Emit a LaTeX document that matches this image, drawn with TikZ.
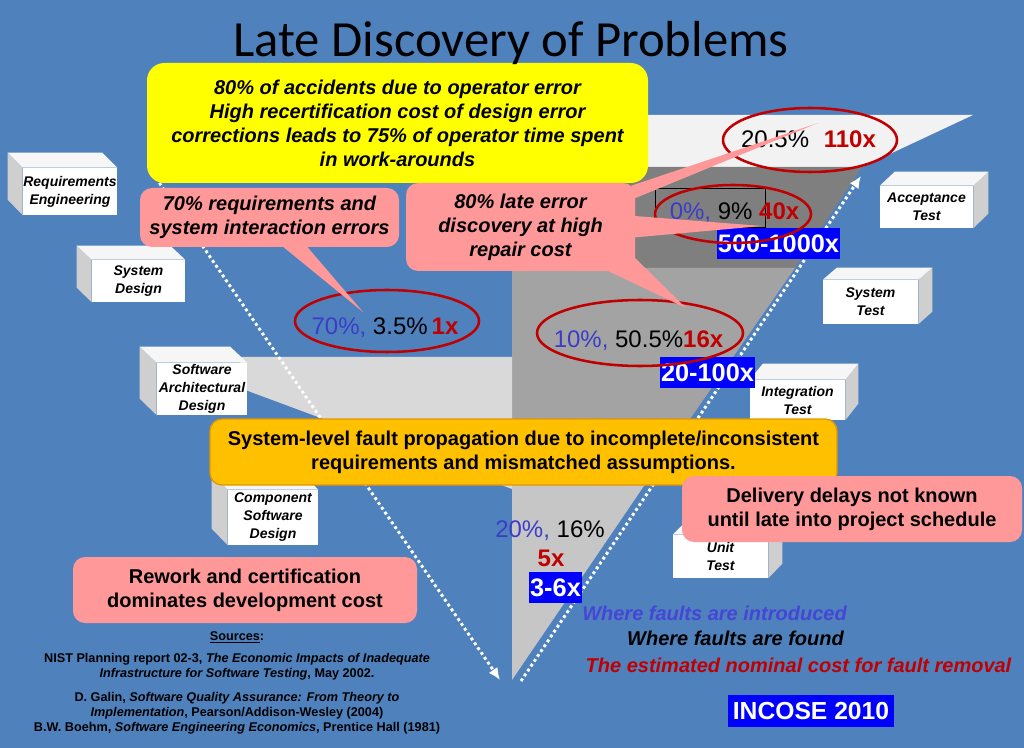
\documentclass[tikz,border=0pt]{standalone}
\usepackage{fontspec}
\setmainfont{Liberation Sans}
\newfontfamily\titlefont{Carlito}
\usetikzlibrary{arrows.meta,calc}

\definecolor{slidebg}{HTML}{4F81BD}
\definecolor{pinkbox}{HTML}{FF9999}
\definecolor{noteyellow}{HTML}{FFFF00}
\definecolor{faultorange}{HTML}{FFC000}
\definecolor{faultedge}{HTML}{E39500}
\definecolor{ringred}{HTML}{C00000}
\definecolor{pctblue}{HTML}{3C3CC8}
\definecolor{legendblue}{HTML}{4646D6}
\definecolor{costblue}{HTML}{0000FF}
\definecolor{sidegray}{HTML}{CFCFCF}
\definecolor{topwhite}{HTML}{F6F6F6}
\definecolor{bandtop}{HTML}{F2F2F2}
\definecolor{banddark}{HTML}{7F7F7F}
\definecolor{bandmid}{HTML}{A3A3A3}
\definecolor{bandlow}{HTML}{C6C6C6}
\definecolor{bandarch}{HTML}{D9D9D9}

\begin{document}
\begin{tikzpicture}[x=0.75pt, y=-0.75pt,
	block/.style={fill=white, inner sep=0pt, align=center, font=\bfseries\itshape\fontsize{10.5}{13.5}\selectfont},
	blockside/.style={fill=sidegray},
	blocktop/.style={fill=topwhite},
	note/.style={rounded corners=9pt, inner sep=0pt, align=center, font=\bfseries\fontsize{15}{18}\selectfont},
	slanted/.style={font=\bfseries\itshape\fontsize{15}{18}\selectfont},
	pointer/.style={fill=pinkbox},
	ring/.style={ringred, line width=1.9pt},
	pct/.style={anchor=base, inner sep=0pt, font=\fontsize{18}{22}\selectfont},
	cost/.style={fill=costblue, text=white, inner sep=0pt, font=\bfseries\fontsize{19}{22}\selectfont},
	legend/.style={anchor=base, inner sep=0pt, font=\bfseries\itshape\fontsize{15}{18}\selectfont},
	ref/.style={align=center, inner sep=0pt, font=\bfseries\fontsize{9.5}{11.25}\selectfont},
	flow/.style={white, line width=2.2pt, dash pattern=on 2.2pt off 2.2pt, -{Latex[length=9pt, width=8pt]}}]
	\useasboundingbox (0,0) rectangle (1024,748);
	\fill[slidebg] (0,0) rectangle (1024,748);

	% the V of bands
	\fill[bandtop] (470,115) -- (973,115) -- (862,167) -- (470,167) -- cycle;
	\fill[banddark] (470,167) -- (862,167) -- (795,268) -- (470,268) -- cycle;
	\fill[bandmid] (512,268) -- (795,268) -- (665,455) -- (512,455) -- cycle;
	\fill[bandlow] (512,455) -- (665,455) -- (512,680) -- cycle;
	\fill[bandarch] (240,357) -- (512,357) -- (512,489) -- (240,388) -- cycle;

	% dotted arrows
	\coordinate (downstart) at (156,178);
	\coordinate (downend) at (500,680);
	\coordinate (upstart) at (521,681);
	\coordinate (upend) at (861,176);
	\draw[flow] (downstart) -- (downend);
	\draw[flow] (upstart) -- (upend);

	% design blocks
	\node[block, minimum width=70.5pt, minimum height=35.25pt] (reqeng) at (70,191.5) {Requirements\\Engineering};
	\fill[blockside] (reqeng.north west) -- ++(-15,-15) -- ++(0,47) -- (reqeng.south west) -- cycle;
	\fill[blocktop] (reqeng.north west) -- ++(-15,-15) -- ($(reqeng.north east)+(-15,-15)$) -- (reqeng.north east) -- cycle;
	\node[block, minimum width=69.75pt, minimum height=31.5pt] (sysdes) at (138.5,281) {System\\Design};
	\fill[blockside] (sysdes.north west) -- ++(-15,-14) -- ++(0,42) -- (sysdes.south west) -- cycle;
	\fill[blocktop] (sysdes.north west) -- ++(-15,-14) -- ($(sysdes.north east)+(-15,-14)$) -- (sysdes.north east) -- cycle;
	\node[block, minimum width=67.5pt, minimum height=39pt] (swarch) at (202,389) {Software\\Architectural\\Design};
	\fill[blockside] (swarch.north west) -- ++(-17,-16) -- ++(0,52) -- (swarch.south west) -- cycle;
	\fill[blocktop] (swarch.north west) -- ++(-17,-16) -- ($(swarch.north east)+(-17,-16)$) -- (swarch.north east) -- cycle;
	\node[block, minimum width=67.5pt, minimum height=41.25pt] (compsw) at (273,517.5) {Component\\Software\\Design};
	\fill[blockside] (compsw.north west) -- ++(-16,-16) -- ++(0,55) -- (compsw.south west) -- cycle;
	\fill[blocktop] (compsw.north west) -- ++(-16,-16) -- ($(compsw.north east)+(-16,-16)$) -- (compsw.north east) -- cycle;

	% test blocks
	\node[block, minimum width=69.75pt, minimum height=31.5pt] (acctest) at (926.5,207) {Acceptance\\Test};
	\fill[blockside] (acctest.north east) -- ++(15,-14) -- ++(0,42) -- (acctest.south east) -- cycle;
	\fill[blocktop] (acctest.north west) -- ++(15,-14) -- ($(acctest.north east)+(15,-14)$) -- (acctest.north east) -- cycle;
	\node[block, minimum width=71.25pt, minimum height=33pt] (systest) at (870.5,302) {System\\Test};
	\fill[blockside] (systest.north east) -- ++(14,-12) -- ++(0,44) -- (systest.south east) -- cycle;
	\fill[blocktop] (systest.north west) -- ++(14,-12) -- ($(systest.north east)+(14,-12)$) -- (systest.north east) -- cycle;
	\node[block, minimum width=71.25pt, minimum height=30pt] (inttest) at (797.5,400) {Integration\\Test};
	\fill[blockside] (inttest.north east) -- ++(13,-16) -- ++(0,40) -- (inttest.south east) -- cycle;
	\fill[blocktop] (inttest.north west) -- ++(13,-16) -- ($(inttest.north east)+(13,-16)$) -- (inttest.north east) -- cycle;
	\node[block, minimum width=71.25pt, minimum height=32.25pt] (unittest) at (720.5,556.5) {Unit\\Test};
	\fill[blockside] (unittest.north east) -- ++(14,-14) -- ++(0,43) -- (unittest.south east) -- cycle;
	\fill[blocktop] (unittest.north west) -- ++(14,-14) -- ($(unittest.north east)+(14,-14)$) -- (unittest.north east) -- cycle;

	% figures per phase
	\draw[black, line width=0.6pt] (655,188) rectangle (765,227);
	\node[cost, minimum width=92.25pt, minimum height=23.25pt] (c500) at (778.5,243.5) {500-1000x};
	\node[cost, minimum width=71.25pt, minimum height=23.25pt] (c20) at (707.5,372.5) {20-100x};
	\node[cost, minimum width=39.75pt, minimum height=23.25pt] (c3) at (555.5,587.5) {3-6x};
	\node[pct] (accrow) at (808.5,148) {20.5\%\hspace{11pt}\textcolor{ringred}{\bfseries 110x}};
	\node[pct] (sysrow) at (734.5,220) {\textcolor{pctblue}{0\%,} 9\% \textcolor{ringred}{\bfseries 40x}};
	\node[pct] (reqrow) at (385,335) {\textcolor{pctblue}{70\%,} 3.5\%\,\textcolor{ringred}{\bfseries 1x}};
	\node[pct] (introw) at (638.5,348) {\textcolor{pctblue}{10\%,} 50.5\%\textcolor{ringred}{\bfseries 16x}};
	\node[pct] (unitrow) at (550,537) {\textcolor{pctblue}{20\%,} 16\%};
	\node[pct, text=ringred, font=\bfseries\fontsize{18}{22}\selectfont] (unitcost) at (551,566) {5x};
	\draw[ring] (810,140) ellipse [x radius=65.25pt, y radius=24pt];
	\draw[ring] (733,214) ellipse [x radius=58.5pt, y radius=21.75pt];
	\draw[ring] (387,321) ellipse [x radius=69pt, y radius=23.25pt];
	\draw[ring] (640,333) ellipse [x radius=77.25pt, y radius=24.75pt];

	% callouts
	\node[note, slanted, fill=noteyellow, rounded corners=13pt, minimum width=375.75pt, minimum height=90pt] (operator) at (397.5,123)
		{80\% of accidents due to operator error\\High recertification cost of design error\\corrections leads to 75\% of operator time spent\\in work-arounds};
	\coordinate (tip110) at (818,123);
	\coordinate (tip40) at (762,226);
	\coordinate (tip16) at (686,308);
	\coordinate (tip1x) at (363,312);
	\node[note, slanted, fill=pinkbox, minimum width=194.25pt, minimum height=44.25pt] (reqerr) at (269.5,217.5)
		{70\% requirements and\\system interaction errors};
	\fill[pointer] ([shift={(10.5,-3)}]reqerr.south) -- (tip1x) -- ([shift={(35.5,-3)}]reqerr.south) -- cycle;
	\node[note, slanted, fill=pinkbox, minimum width=171.75pt, minimum height=66pt] (lateerr) at (520.5,227)
		{80\% late error\\discovery at high\\repair cost};
	\fill[pointer] ([shift={(-4,3)}]lateerr.north east) -- (tip110) -- ([shift={(-4,17)}]lateerr.north east) -- cycle;
	\fill[pointer] ([shift={(-4,33)}]lateerr.north east) -- (tip40) -- ([shift={(-4,55)}]lateerr.north east) -- cycle;
	\fill[pointer] ([shift={(-33,-3)}]lateerr.south east) -- (tip16) -- ([shift={(-3,-16)}]lateerr.south east) -- cycle;
	\node[note, fill=faultorange, draw=faultedge, line width=1pt, minimum width=470.25pt, minimum height=49.5pt] (fault) at (523.5,452)
		{System-level fault propagation due to incomplete/inconsistent\\requirements and mismatched assumptions.};
	\node[note, fill=pinkbox, minimum width=255pt, minimum height=49.5pt] (delay) at (852,509)
		{Delivery delays not known\\until late into project schedule};
	\node[note, fill=pinkbox, minimum width=258pt, minimum height=49.5pt] (rework) at (245,590)
		{Rework and certification\\dominates development cost};

	% legend and sources
	\node[legend, text=legendblue] (introduced) at (714.5,620) {Where faults are introduced};
	\node[legend] (found) at (735.5,645) {Where faults are found};
	\node[legend, text=ringred] (removal) at (798.5,672) {The estimated nominal cost for fault removal};
	\node[cost, minimum width=124.5pt, minimum height=24pt, font=\bfseries\fontsize{18.5}{22}\selectfont] (incose) at (811,711) {INCOSE 2010};
	\node[ref, anchor=base] (sources) at (237,640) {\underline{Sources}:};
	\node[ref] (nist) at (237,666.7) {NIST Planning report 02-3, \textit{The Economic Impacts of Inadequate}\\\textit{Infrastructure for Software Testing}, May 2002.};
	\node[ref] (galin) at (237,713.2) {D. Galin, \textit{Software Quality Assurance: From Theory to}\\\textit{Implementation}, Pearson/Addison-Wesley (2004)\\B.W. Boehm, \textit{Software Engineering Economics}, Prentice Hall (1981)};

	\node[anchor=base, inner sep=0pt, font=\titlefont\fontsize{38}{44}\selectfont] (title) at (511,57) {Late Discovery of Problems};
\end{tikzpicture}
\end{document}
